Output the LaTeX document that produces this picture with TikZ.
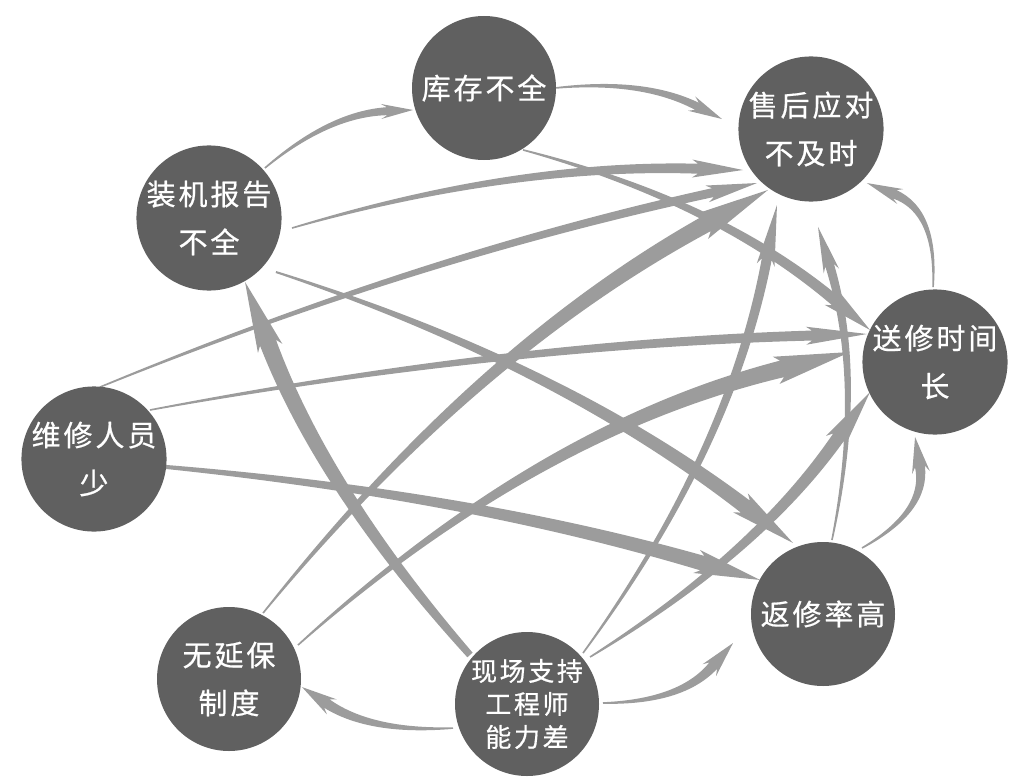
\documentclass[tikz,border=0pt]{standalone}
\usepackage{fontspec}
\usetikzlibrary{calc}
\newfontfamily\cjk[LetterSpace=10,FakeBold=0.6]{Noto Sans CJK SC}
\definecolor{nodegray}{RGB}{96,96,96}
\definecolor{arrowgray}{RGB}{156,156,156}
\pgfdeclarelayer{bg}
\pgfsetlayers{bg,main}
% tapered arrow: #1 tail, #2 tip, #3 bend, #4 tail half-width, #5 mid half-width,
% #6 half-width at head base, #7 barb half-width, #8 head length
\newcommand{\tarr}[8]{%
  \path (#1) coordinate (aT) (#2) coordinate (aH);
  \path ($(aT)!0.5!(aH)!#3pt!90:(aH)$) coordinate (aC);
  \path ($(aH)!#8pt!(aC)$) coordinate (aB);
  \path ($(aB)!6pt!(aC)$) coordinate (aBb);
  \path ($(aT)!#4pt!90:(aC)$) coordinate (aL1)
        ($(aT)!#4pt!-90:(aC)$) coordinate (aR1)
        ($(aB)!#6pt!90:(aH)$) coordinate (aL2)
        ($(aB)!#6pt!-90:(aH)$) coordinate (aR2)
        ($(aBb)!#7pt!90:(aH)$) coordinate (aL3)
        ($(aBb)!#7pt!-90:(aH)$) coordinate (aR3)
        ($(aT)!#5pt!90:(aH)$) coordinate (aN)
        ($(aT)!#5pt!-90:(aH)$) coordinate (aM);
  \path ($(aC)+(aN)-(aT)$) coordinate (aLc)
        ($(aC)+(aM)-(aT)$) coordinate (aRc);
  \fill[arrowfill] (aL1) .. controls ($(aL1)!0.6667!(aLc)$) and ($(aL2)!0.6667!(aLc)$) .. (aL2)
     -- (aL3) -- (aH) -- (aR3) -- (aR2)
     .. controls ($(aR2)!0.6667!(aRc)$) and ($(aR1)!0.6667!(aRc)$) .. (aR1) -- cycle;
}
\tikzset{
  circ/.style={circle, fill=nodegray, minimum size=144pt, inner sep=0pt, text=white,
    align=center, font=\cjk\fontsize{29}{48}\selectfont},
  circsmall/.style={circ, font=\cjk\fontsize{26}{33}\selectfont},
  arrowfill/.style={fill=arrowgray}
}
\begin{document}
\begin{tikzpicture}[x=1pt,y=1pt]
\useasboundingbox (0,0) rectangle (1015,-784);
\node[circ] (kc) at (484,-88) {库存不全};
\node[circ] (sh) at (811,-129) {售后应对\\不及时};
\node[circ] (zj) at (209,-218) {装机报告\\不全};
\node[circ] (sx) at (935,-362) {送修时间\\长};
\node[circ] (wx) at (94,-459) {维修人员\\少};
\node[circ] (fx) at (823,-614) {返修率高};
\node[circ] (wy) at (229,-679) {无延保\\制度};
\node[circsmall] (xc) at (527,-704) {现场支持\\工程师\\能力差};
\begin{pgfonlayer}{bg}
\tarr{$(zj)+(41.8:75)$}{$(kc)+(197.2:74.3)$}{27}{0.8}{2.8}{4}{7.5}{26}
\tarr{$(kc)+(0:71)$}{$(sh)+(173.6:89.6)$}{25}{0.8}{2.8}{4}{8}{28}
\tarr{$(zj)+(-6.9:83.6)$}{$(sh)+(211.1:79.4)$}{36}{0.8}{4}{5}{9}{45}
\tarr{$(wx)+(85.2:72.2)$}{$(sh)+(225:76.4)$}{30}{0.8}{3.5}{4.5}{8.5}{45}
\tarr{$(wx)+(41.2:74.4)$}{$(sx)+(157.6:73.5)$}{28}{0.8}{4}{5}{9}{55}
\tarr{$(kc)+(-57.8:73.2)$}{$(sx)+(153.8:72.4)$}{44}{0.8}{4.5}{5.5}{10}{45}
\tarr{$(zj)+(-38.9:86)$}{$(fx)+(112.9:77.1)$}{50}{1}{5.5}{7.5}{12}{60}
\tarr{$(wx)+(-6.3:72.4)$}{$(fx)+(151.6:71.6)$}{29}{2}{5.5}{7.5}{12}{60}
\tarr{$(xc)+(139.3:75.2)$}{$(zj)+(-60.6:73.4)$}{40}{3.5}{7}{8.5}{13}{65}
\tarr{$(wy)+(62.7:74.2)$}{$(sh)+(234.8:74.6)$}{65}{0.8}{6}{8.5}{14}{70}
\tarr{$(wy)+(26.2:76.9)$}{$(sx)+(173.3:85.6)$}{78}{0.8}{6}{8.5}{14}{70}
\tarr{$(xc)+(36.7:78.6)$}{$(sx)+(204.8:71.6)$}{-40}{0.8}{5}{6.5}{11}{55}
\tarr{$(xc)+(42.3:75.7)$}{$(sh)+(245.9:83.3)$}{-55}{0.8}{4}{5}{9}{55}
\tarr{$(fx)+(83.1:74.5)$}{$(sh)+(-85.9:98.2)$}{-40}{0.8}{3.5}{4.5}{8}{40}
\tarr{$(sx)+(91.5:75)$}{$(sh)+(-44:77.8)$}{-44}{0.8}{3}{4.5}{8}{30}
\tarr{$(fx)+(59.4:76.7)$}{$(sx)+(255.1:77.6)$}{-43}{0.8}{3.5}{5}{9}{30}
\tarr{$(xc)+(0.75:76)$}{$(fx)+(197.9:94.6)$}{-32}{0.8}{3.5}{5}{9}{30}
\tarr{$(xc)+(198:77.8)$}{$(wy)+(-6.3:73.4)$}{26}{0.8}{3.5}{5}{9}{30}
\end{pgfonlayer}
\end{tikzpicture}
\end{document}
